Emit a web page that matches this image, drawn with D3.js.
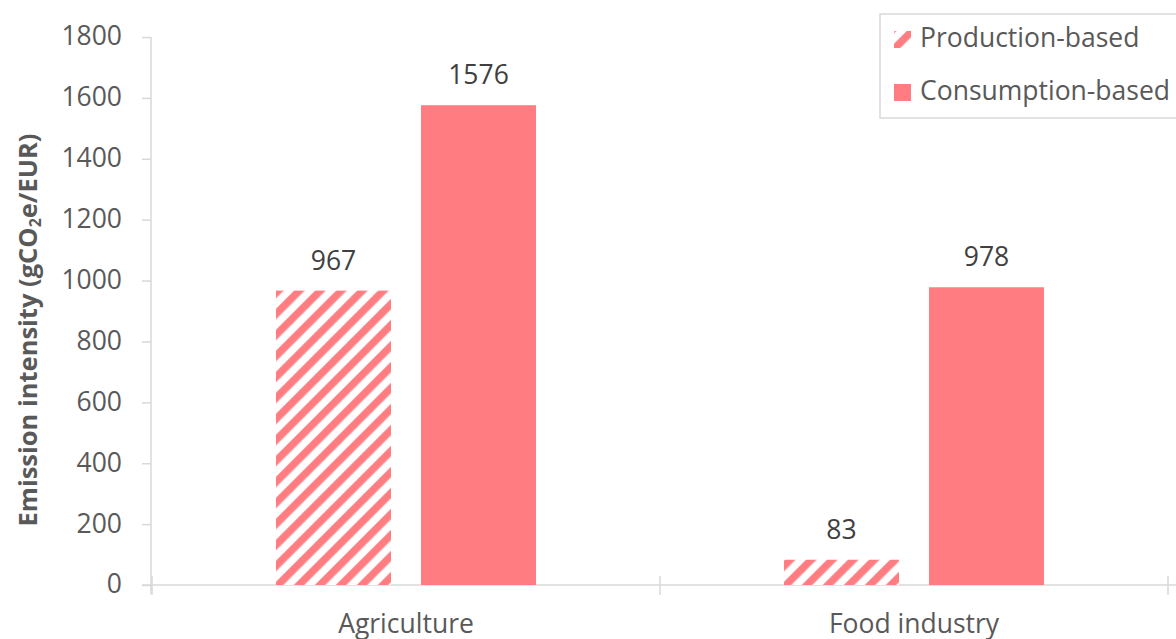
<!DOCTYPE html>
<html>
<head>
<meta charset="utf-8">
<script src="https://cdn.jsdelivr.net/npm/d3@7"></script>
<style>
  body { margin: 0; background: #fff; }
  svg { display: block; font-family: "Open Sans", sans-serif; }
</style>
</head>
<body>
<div id="chart"></div>
<script>
// chart data
var categories = ["Agriculture", "Food industry"];
var seriesNames = ["Production-based", "Consumption-based"];
var production = [967, 83];
var consumption = [1576, 978];
var yTicks = [0, 200, 400, 600, 800, 1000, 1200, 1400, 1600, 1800];

var W = 1176, H = 639;
var red = "#FF7C80", textCol = "#595959", axisCol = "#D9D9D9";
var fs = "26.5px";

var svg = d3.select("#chart").append("svg")
	.attr("width", W)
	.attr("height", H);

// hatch pattern (upward diagonal)
var defs = svg.append("defs");
var per = 21 / Math.SQRT2;
var pat = defs.append("pattern")
	.attr("id", "hatch")
	.attr("patternUnits", "userSpaceOnUse")
	.attr("width", per)
	.attr("height", per)
	.attr("patternTransform", "rotate(45)");
pat.append("rect").attr("width", per).attr("height", per).attr("fill", "#fff");
var u0 = (18 / Math.SQRT2 - per / 4);
[u0, u0 - per].forEach(function(u){
	pat.append("rect")
		.attr("x", u).attr("y", 0)
		.attr("width", per / 2).attr("height", per)
		.attr("fill", red);
});

var x0 = d3.scaleBand().domain(categories).range([152, 1168]).padding(0);
var x1 = d3.scaleBand().domain(seriesNames).range([0, x0.bandwidth()])
	.paddingInner(0.207).paddingOuter(0.855);
var y = d3.scaleLinear().domain([0, 1800]).range([585, 37]);

var rows = categories.map(function(c, i){
	return [
		{cat: c, s: seriesNames[0], v: production[i]},
		{cat: c, s: seriesNames[1], v: consumption[i]}
	];
});

// y axis
var yAxis = svg.append("g")
	.attr("transform", "translate(151,0)")
	.call(d3.axisLeft(y).tickValues(yTicks).tickSize(9).tickPadding(20).tickFormat(d3.format("d")));
yAxis.select(".domain").attr("stroke", axisCol).attr("stroke-width", 1.5).attr("d", "M0,37V594");
yAxis.selectAll(".tick line").attr("stroke", axisCol).attr("stroke-width", 1.5);
yAxis.selectAll(".tick text")
	.attr("fill", textCol)
	.style("font-size", fs)
	.attr("dy", "0.3em")
	.attr("font-family", "Open Sans");

// x axis
var xAxis = svg.append("g")
	.attr("transform", "translate(0,585)")
	.call(d3.axisBottom(x0).tickSize(0).tickPadding(29));
xAxis.select(".domain").attr("stroke", axisCol).attr("stroke-width", 1.5).attr("d", "M142,0H1176");
xAxis.selectAll(".tick text")
	.attr("fill", textCol)
	.style("font-size", fs)
	.attr("font-family", "Open Sans");
// category separators
svg.selectAll(".sep")
	.data(categories.concat(["end"]))
	.enter()
	.append("line")
	.attr("x1", function(d, i){ return 152 + i * x0.step(); })
	.attr("x2", function(d, i){ return 152 + i * x0.step(); })
	.attr("y1", 576).attr("y2", 595)
	.attr("stroke", axisCol).attr("stroke-width", 1.5);

// bars
var groups = svg.selectAll(".grp")
	.data(rows)
	.enter()
	.append("g")
	.attr("transform", function(d){ return "translate(" + x0(d[0].cat) + ",0)"; });

groups.selectAll("rect")
	.data(function(d){ return d; })
	.enter()
	.append("rect")
	.attr("x", function(d){ return x1(d.s); })
	.attr("width", x1.bandwidth())
	.attr("y", function(d){ return y(d.v); })
	.attr("height", function(d){ return y(0) - y(d.v); })
	.attr("fill", function(d){ return d.s === seriesNames[0] ? "url(#hatch)" : red; });

groups.selectAll("text")
	.data(function(d){ return d; })
	.enter()
	.append("text")
	.attr("x", function(d){ return x1(d.s) + x1.bandwidth() / 2; })
	.attr("y", function(d){ return y(d.v) - 21; })
	.attr("text-anchor", "middle")
	.attr("fill", "#404040")
	.style("font-size", fs)
	.text(function(d){ return d.v; });

// y title
svg.append("text")
	.attr("transform", "translate(37,330) rotate(-90)")
	.attr("text-anchor", "middle")
	.attr("fill", textCol)
	.style("font-size", "25.5px")
	.style("font-weight", "bold")
	.html("Emission intensity (gCO<tspan font-size='16px' dy='4'>2</tspan><tspan dy='-4'>e/EUR)</tspan>");

// legend
svg.append("rect")
	.attr("x", 880).attr("y", 14)
	.attr("width", 320).attr("height", 104)
	.attr("fill", "#fff")
	.attr("stroke", axisCol).attr("stroke-width", 1.5);

var leg = svg.selectAll(".leg")
	.data(seriesNames)
	.enter()
	.append("g")
	.attr("transform", function(d, i){ return "translate(894," + (31 + i * 53) + ")"; });
leg.append("rect")
	.attr("width", 17).attr("height", 17)
	.attr("fill", function(d, i){ return i === 0 ? "url(#hatch)" : red; });
leg.append("text")
	.attr("x", 26).attr("y", 16)
	.attr("fill", textCol)
	.style("font-size", fs)
	.text(function(d){ return d; });
</script>
</body>
</html>
